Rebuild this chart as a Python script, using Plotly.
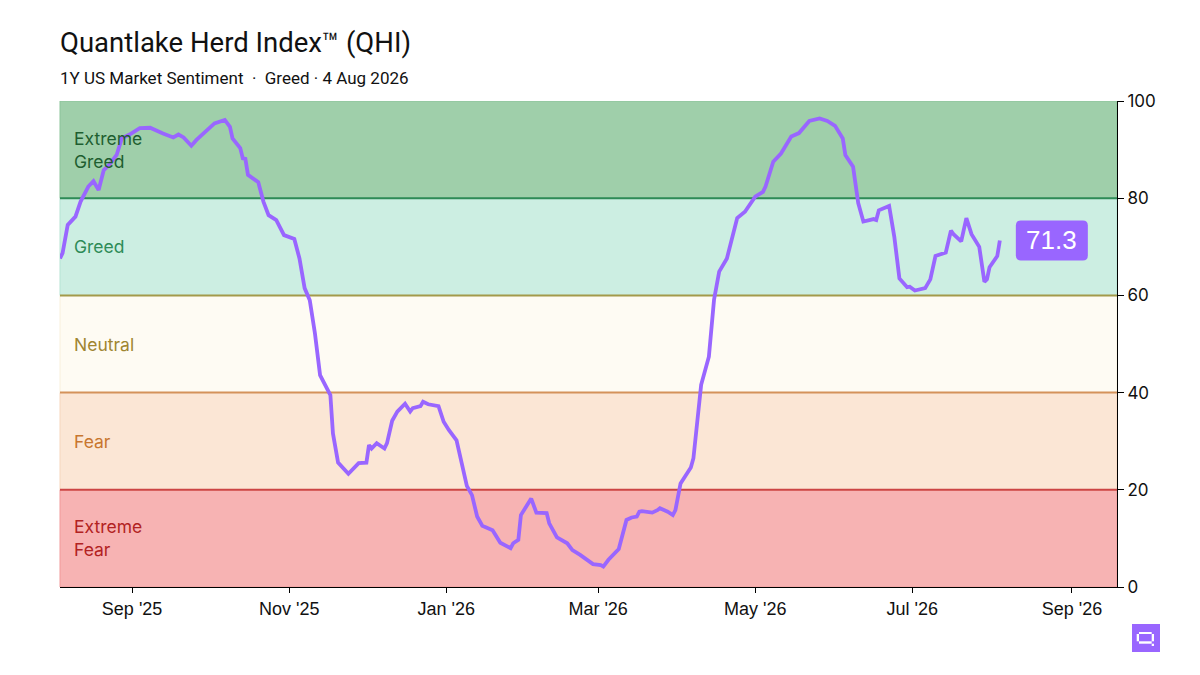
import plotly.graph_objects as go

# QHI daily readings
dates = [
    "2025-08-04", "2025-08-05", "2025-08-07", "2025-08-10", "2025-08-12", "2025-08-15",
    "2025-08-17", "2025-08-19", "2025-08-21", "2025-08-23", "2025-08-26", "2025-08-28",
    "2025-08-31", "2025-09-04", "2025-09-08", "2025-09-10", "2025-09-13", "2025-09-17",
    "2025-09-19", "2025-09-21", "2025-09-23", "2025-09-24", "2025-09-26", "2025-09-28",
    "2025-09-30", "2025-10-03", "2025-10-07", "2025-10-09", "2025-10-10", "2025-10-13",
    "2025-10-14", "2025-10-15", "2025-10-16", "2025-10-20", "2025-10-22", "2025-10-24",
    "2025-10-27", "2025-10-30", "2025-11-03", "2025-11-05", "2025-11-07", "2025-11-09",
    "2025-11-11", "2025-11-13", "2025-11-17", "2025-11-18", "2025-11-20", "2025-11-24",
    "2025-11-28", "2025-12-01", "2025-12-02", "2025-12-03", "2025-12-05", "2025-12-08",
    "2025-12-09", "2025-12-11", "2025-12-13", "2025-12-16", "2025-12-18", "2025-12-19",
    "2025-12-22", "2025-12-23", "2025-12-25", "2025-12-29", "2025-12-31", "2026-01-02",
    "2026-01-05", "2026-01-07", "2026-01-09", "2026-01-11", "2026-01-13", "2026-01-15",
    "2026-01-19", "2026-01-22", "2026-01-26", "2026-01-27", "2026-01-29", "2026-01-30",
    "2026-02-03", "2026-02-05", "2026-02-09", "2026-02-10", "2026-02-13", "2026-02-17",
    "2026-02-19", "2026-02-22", "2026-02-24", "2026-02-27", "2026-03-02", "2026-03-03",
    "2026-03-05", "2026-03-09", "2026-03-12", "2026-03-14", "2026-03-16", "2026-03-17",
    "2026-03-18", "2026-03-22", "2026-03-24", "2026-03-25", "2026-03-28", "2026-03-30",
    "2026-03-31", "2026-04-02", "2026-04-06", "2026-04-07", "2026-04-10", "2026-04-13",
    "2026-04-15", "2026-04-17", "2026-04-20", "2026-04-24", "2026-04-27", "2026-05-01",
    "2026-05-04", "2026-05-05", "2026-05-08", "2026-05-11", "2026-05-15", "2026-05-18",
    "2026-05-22", "2026-05-26", "2026-05-29", "2026-06-01", "2026-06-04", "2026-06-05",
    "2026-06-08", "2026-06-10", "2026-06-12", "2026-06-16", "2026-06-17", "2026-06-18",
    "2026-06-22", "2026-06-24", "2026-06-26", "2026-06-29", "2026-06-30", "2026-07-02",
    "2026-07-06", "2026-07-08", "2026-07-10", "2026-07-14", "2026-07-16", "2026-07-17",
    "2026-07-20", "2026-07-22", "2026-07-24", "2026-07-27", "2026-07-29", "2026-07-30",
    "2026-07-31", "2026-08-03", "2026-08-04",
]
qhi = [
    67.6, 68.7, 74.5, 76.2, 79.3, 82.4,
    83.5, 81.7, 85.8, 86.8, 88.9, 92.3,
    93.1, 94.4, 94.5, 94.0, 93.3, 92.5,
    93.1, 92.5, 91.3, 90.8, 92.0, 92.9,
    93.8, 95.4, 96.1, 94.7, 92.3, 90.3,
    88.2, 88.1, 84.8, 83.3, 79.3, 76.5,
    75.5, 72.4, 71.6, 67.6, 61.5, 59.0,
    52.2, 43.6, 39.5, 31.6, 25.6, 23.3,
    25.5, 25.6, 29.2, 28.5, 29.6, 28.5,
    29.6, 34.2, 36.1, 37.7, 36.1, 36.8,
    37.2, 38.1, 37.6, 37.2, 34.0, 32.3,
    30.2, 25.1, 20.8, 18.9, 14.5, 12.6,
    11.7, 9.1, 8.0, 9.0, 9.7, 14.8,
    18.2, 15.3, 15.2, 13.1, 10.2, 9.0,
    7.6, 6.6, 5.9, 4.7, 4.5, 4.2,
    5.6, 7.8, 13.8, 14.3, 14.5, 15.5,
    15.6, 15.3, 15.8, 16.2, 15.5, 14.8,
    15.8, 21.3, 24.6, 26.5, 41.6, 47.4,
    59.1, 64.9, 67.6, 75.9, 77.2, 80.3,
    81.3, 82.4, 87.5, 89.2, 92.7, 93.4,
    95.9, 96.4, 95.9, 94.9, 92.3, 88.9,
    86.5, 79.0, 75.2, 75.7, 75.5, 77.5,
    78.4, 72.1, 63.5, 61.7, 61.8, 61.0,
    61.5, 63.3, 68.1, 68.8, 73.3, 72.6,
    71.1, 75.9, 72.6, 70.0, 62.8, 63.3,
    65.8, 68.1, 71.3,
]

# sentiment zones
zone_names = ["Extreme<br>Fear", "Fear", "Neutral", "Greed", "Extreme<br>Greed"]
zone_lo = [0, 20, 40, 60, 80]
zone_hi = [20, 40, 60, 80, 100]
zone_fill = ["#f7b3b3", "#fbe6d5", "#fefbf3", "#cceee2", "#9fcfaa"]
zone_edge = ["#f19a9a", "#f6d6bd", "#f8f0dc", "#b6e3d3", "#8cc49a"]
zone_text = ["#b22222", "#c8762f", "#a08530", "#2e8b57", "#1e5e30"]
zone_line = ["#cc4444", "#d4925a", "#a39a4a", "#2e8b57", None]

PURPLE = "#9966ff"
PLOT_W, PLOT_H = 1057, 486


def px(dx):
    # pixel offset from the plot's left edge -> paper x
    return dx / PLOT_W


def py(dy):
    # pixel offset below the plot's bottom edge -> paper y
    return -dy / PLOT_H


fig = go.Figure()

for lo, hi, fill, edge in zip(zone_lo, zone_hi, zone_fill, zone_edge):
    fig.add_shape(type="rect", xref="paper", x0=0, x1=1, yref="y", y0=lo, y1=hi,
                  fillcolor=fill, line=dict(color=edge, width=1), layer="below")

for hi, col in zip(zone_hi, zone_line):
    if col:
        fig.add_shape(type="line", xref="paper", x0=0, x1=1, yref="y", y0=hi, y1=hi,
                      line=dict(color=col, width=2), layer="below")

for lo, hi, name, col in zip(zone_lo, zone_hi, zone_names, zone_text):
    fig.add_annotation(xref="paper", x=0, xshift=12, xanchor="left", yref="y",
                       y=(lo + hi) / 2, text=name, showarrow=False, align="left",
                       font=dict(family="Inter", size=17.5, color=col))

fig.add_trace(go.Scatter(x=dates, y=qhi, mode="lines",
                         line=dict(color=PURPLE, width=3.8), hoverinfo="x+y",
                         showlegend=False))

# latest value badge
fig.add_shape(type="path", xref="x", yref="y", xsizemode="pixel", ysizemode="pixel",
              xanchor=dates[-1], yanchor=qhi[-1],
              path="M 21,20 L 83,20 Q 88,20 88,15 L 88,-15 Q 88,-20 83,-20 "
                   "L 21,-20 Q 16,-20 16,-15 L 16,15 Q 16,20 21,20 Z",
              fillcolor=PURPLE, line=dict(width=0))
fig.add_annotation(x=dates[-1], y=qhi[-1], xshift=52, text=f"{qhi[-1]:.1f}",
                   showarrow=False, font=dict(family="Liberation Sans", size=26,
                                              color="white"))

# small pixel logo, bottom right
fig.add_shape(type="rect", xref="paper", yref="paper", x0=px(1072), x1=px(1100),
              y0=py(65), y1=py(37), fillcolor=PURPLE, line=dict(width=0))
logo_bits = [
    (1079, 1091.7, 45, 47),      # top
    (1076.7, 1079, 47, 54.3),    # left
    (1091.7, 1094, 47, 54.3),    # right
    (1079, 1091.7, 54.3, 56.7),  # bottom
    (1091.7, 1094, 56.7, 59),    # tail
]
for x0, x1, y0, y1 in logo_bits:
    fig.add_shape(type="rect", xref="paper", yref="paper", x0=px(x0), x1=px(x1),
                  y0=py(y1), y1=py(y0), fillcolor="white", line=dict(width=0))

fig.update_layout(
    width=1200,
    height=675,
    margin=dict(l=52, r=91, t=93, b=96),
    paper_bgcolor="white",
    plot_bgcolor="white",
    font=dict(family="Liberation Sans", size=16, color="#111111"),
    title=dict(text="Quantlake Herd Index™ (QHI)", x=52 / 1200, xanchor="left",
               y=1 - 34 / 675, yanchor="middle",
               font=dict(family="Roboto", size=27.5, color="#111111")),
    showlegend=False,
)
fig.add_annotation(xref="paper", yref="paper", x=0, xshift=-2, xanchor="left",
                   y=1.0, yshift=23, yanchor="middle", showarrow=False,
                   text="1Y US Market Sentiment  ·  Greed · 4 Aug 2026",
                   font=dict(family="Roboto", size=17, color="#111111"))

fig.update_xaxes(
    type="date",
    range=["2025-08-04", "2026-09-18 12:00"],
    tick0="2025-09-01",
    dtick="M2",
    tickformat="%b '%y",
    showgrid=False,
    zeroline=False,
    showline=True,
    linecolor="black",
    linewidth=1,
    ticks="outside",
    ticklen=5,
    tickcolor="black",
    tickfont=dict(family="Liberation Sans", size=18, color="#111111"),
)
fig.update_yaxes(
    side="right",
    range=[0, 100],
    tickvals=[0, 20, 40, 60, 80, 100],
    showgrid=False,
    zeroline=False,
    showline=True,
    linecolor="black",
    linewidth=1,
    ticks="outside",
    ticklen=6,
    tickcolor="black",
    tickfont=dict(family="Inter", size=17, color="#111111"),
)

fig.write_html("out.html")
